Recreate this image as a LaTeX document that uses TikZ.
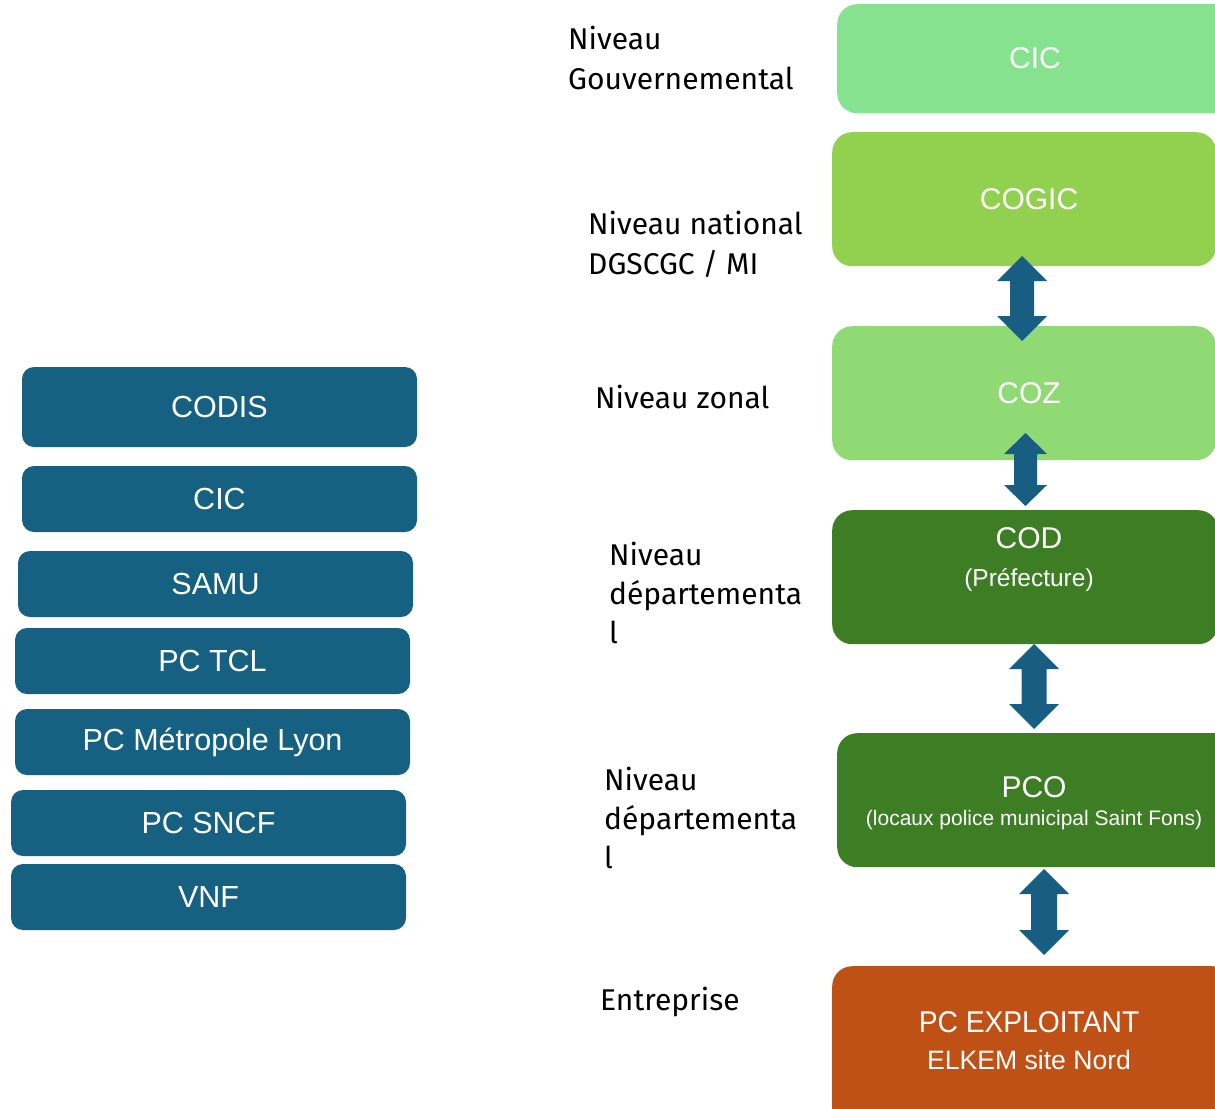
\documentclass[tikz,border=0pt]{standalone}
\usepackage{fontspec}
\setmainfont{Liberation Sans}
\newfontfamily\lblfont{Fira Sans}
\newfontfamily\narrowfont[FakeStretch=0.94]{Liberation Sans}
\definecolor{cicg}{HTML}{87E290}
\definecolor{cogicg}{HTML}{92D050}
\definecolor{cozg}{HTML}{8FDA74}
\definecolor{codg}{HTML}{3D7D24}
\definecolor{exploit}{HTML}{C05116}
\definecolor{bluebox}{HTML}{166082}
\definecolor{arrowc}{HTML}{175E82}
\newcommand\dblarrow[6]{\fill[arrowc] (#1,#2) -- (#1+#4,#2+#6) -- (#1+#5,#2+#6) -- (#1+#5,#3-#6) -- (#1+#4,#3-#6) -- (#1,#3) -- (#1-#4,#3-#6) -- (#1-#5,#3-#6) -- (#1-#5,#2+#6) -- (#1-#4,#2+#6) -- cycle;}
\tikzset{
  rbox/.style={draw=none, rounded corners=20pt, anchor=north west, inner sep=0pt},
  lbox/.style={draw=none, fill=bluebox, rounded corners=12pt, minimum width=395pt, inner sep=0pt, text=white, font=\fontsize{30.5}{35}\selectfont},
  rtxt/.style={text=white, inner sep=0pt, font=\fontsize{30}{36}\selectfont},
  stxt/.style={text=white, inner sep=0pt},
  lbl/.style={anchor=west, align=left, inner sep=0pt, text=black}
}
\begin{document}
\begin{tikzpicture}[x=1pt,y=-1pt]
\useasboundingbox (0,0) rectangle (1215,1108);
\clip (0,0) rectangle (1215,1108);
\fill[white] (0,0) rectangle (1215,1108);

% right column boxes
\node[rbox, fill=cicg, minimum width=400pt, minimum height=109pt] (cicR) at (837,4) {};
\node[rbox, fill=cogicg, minimum width=384pt, minimum height=134pt] (cogic) at (832,132) {};
\node[rbox, fill=cozg, minimum width=384pt, minimum height=134pt] (coz) at (832,326) {};
\node[rbox, fill=codg, minimum width=386pt, minimum height=134pt] (cod) at (832,510) {};
\node[rbox, fill=codg, minimum width=400pt, minimum height=134pt] (pco) at (837,733) {};
\node[rbox, fill=exploit, minimum width=400pt, minimum height=180pt] (exp) at (832,966) {};

\node[rtxt] (cicRt) at (1035,58) {CIC};
\node[rtxt] (cogict) at (1029,199) {COGIC};
\node[rtxt] (cozt) at (1029,393) {COZ};
\node[rtxt] (codt) at (1029,538) {COD};
\node[stxt, font=\fontsize{24.5}{28}\selectfont] (codst) at (1029,580) {(Préfecture)};
\node[rtxt] (pcot) at (1034,787) {PCO};
\node[stxt, font=\fontsize{21}{25}\selectfont] (pcost) at (1034,820) {(locaux police municipal Saint Fons)};
\node[rtxt, font=\narrowfont\fontsize{30}{36}\selectfont] (expt) at (1029,1022) {PC EXPLOITANT};
\node[stxt, font=\fontsize{26.6}{30}\selectfont] (expst) at (1029,1060) {ELKEM site Nord};

% arrows
\dblarrow{1022}{256}{341}{25}{12}{25}
\dblarrow{1025.5}{433}{506}{21.5}{11.5}{21}
\dblarrow{1034}{644}{729}{25}{12.5}{25}
\dblarrow{1044}{869}{955}{25}{13}{25}

% level labels
\node[lbl, font=\lblfont\fontsize{30}{40}\selectfont] (l1) at (568,58) {Niveau\\Gouvernemental};
\node[lbl, font=\lblfont\fontsize{30}{40}\selectfont] (l2) at (588,244) {Niveau national\\DGSCGC / MI};
\node[lbl, font=\lblfont\fontsize{30}{40}\selectfont] (l3) at (595,397) {Niveau zonal};
\node[lbl, font=\lblfont\fontsize{30}{39}\selectfont] (l4) at (609,593) {Niveau\\départementa\\l};
\node[lbl, font=\lblfont\fontsize{30}{39}\selectfont] (l5) at (604,818) {Niveau\\départementa\\l};
\node[lbl, font=\lblfont\fontsize{30}{40}\selectfont] (l6) at (600,1002) {Entreprise};

% left column boxes
\node[lbox, minimum height=80pt] (codis) at (219.5,407) {CODIS};
\node[lbox, minimum height=66pt] (cicL) at (219.5,499) {CIC};
\node[lbox, minimum height=66pt] (samu) at (215.5,584) {SAMU};
\node[lbox, minimum height=66pt] (pctcl) at (212.5,661) {PC TCL};
\node[lbox, minimum height=66pt] (pcml) at (212.5,742) {PC Métropole Lyon};
\node[lbox, minimum height=66pt] (pcsncf) at (208.5,823) {PC SNCF};
\node[lbox, minimum height=66pt] (vnf) at (208.5,897) {VNF};
\end{tikzpicture}
\end{document}
